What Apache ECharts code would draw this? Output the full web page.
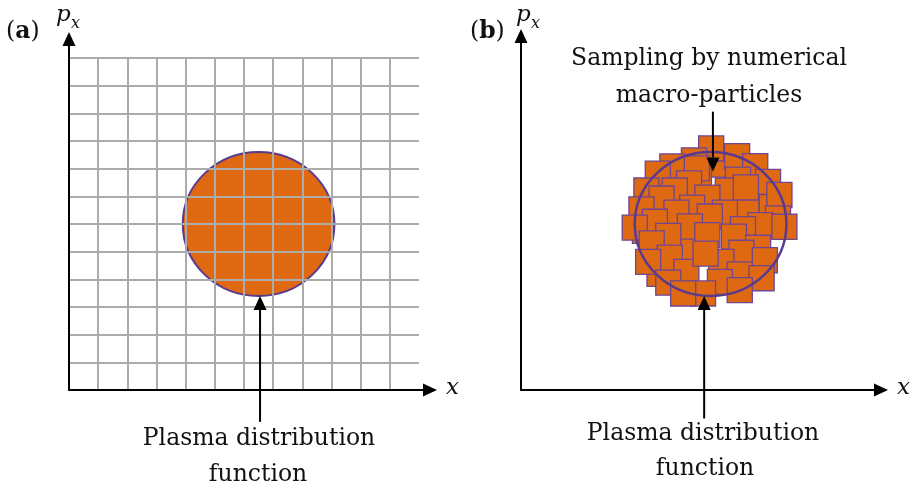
<!DOCTYPE html>
<html>
<head>
<meta charset="utf-8">
<script src="https://cdn.jsdelivr.net/npm/echarts@6/dist/echarts.min.js"></script>
<style>
  html, body { margin: 0; padding: 0; background: #fff; }
  #chart { width: 915px; height: 487px; }
</style>
</head>
<body>
<div id="chart"></div>
<script>
// Phase-space extent of the Eulerian mesh (cells along x and along p_x)
const meshCellsX = [0, 12];
const meshCellsP = [0, 12];

// Continuous plasma distribution: centre (x, p_x) and radius, phase-space units
const distributionCentre = [6.5, 6.0];
const distributionRadius = [2.6];

// Macro-particle centres (x, p_x) sampling the distribution
const particleX = [6.52, 7.41, 5.93, 5.19, 8.03, 6.03, 4.69, 7.44, 8.47, 5.76,
                   4.30, 5.27, 7.09, 8.86, 6.39, 4.82, 5.87, 7.73, 4.13, 6.99,
                   5.33, 6.47, 8.81, 4.59, 8.21, 5.79, 9.03, 3.90, 7.61, 6.39,
                   5.05, 7.30, 4.48, 8.13, 7.56, 5.10, 8.36, 6.87, 4.36, 5.67,
                   7.50, 8.25, 5.05, 6.82, 7.50, 6.24, 5.56, 7.71, 6.33,
                   4.25, 6.95, 8.60, 5.60, 7.20, 4.75, 6.10];
const particleP = [8.73, 8.45, 8.30, 8.08, 8.09, 8.01, 7.82, 7.60, 7.52, 7.47,
                   7.21, 7.21, 7.21, 7.05, 6.95, 6.92, 6.59, 6.53, 6.53, 6.41,
                   6.41, 6.27, 6.20, 6.08, 5.96, 5.91, 5.90, 5.87, 5.81, 5.60,
                   5.57, 5.54, 5.30, 5.14, 4.96, 4.78, 4.69, 4.63, 4.63, 4.27,
                   4.18, 4.04, 3.88, 3.91, 3.61, 3.49, 3.49, 7.32, 4.93,
                   5.75, 8.15, 6.75, 5.15, 4.40, 4.20, 7.80];

// Annotation pointers: [x, tip p_x, tail p_x]
const pointersA = [[6.55, 3.40, -1.15]];
const pointersB = [[6.58, 7.90, 10.06], [6.28, 3.40, -1.03]];

// Text
const panelLabels = ['a', 'b'];
const axisNameX = 'x';
const axisNameP = ['p', 'x'];
const labelDistribution = ['Plasma distribution', 'function'];
const labelSampling = ['Sampling by numerical', 'macro-particles'];

const ORANGE = '#de6912';
const PURPLE = '#5a3a8e';
const EDGE = '#6f4594';
const MESH = '#ababab';
const INK = '#111111';
const SERIF = 'DejaVu Serif';
const PARTICLE_SIDE = 0.86;

const chart = echarts.init(document.getElementById('chart'), null, { renderer: 'canvas' });

function hiddenAxis(gridIndex, extent, extra) {
  return Object.assign({
    type: 'value', gridIndex: gridIndex, min: extent[0], max: extent[1], interval: 1,
    axisLine: { show: false }, axisTick: { show: false }, axisLabel: { show: false },
    splitLine: { show: false }
  }, extra || {});
}

function arrowAxis(gridIndex) {
  return {
    type: 'value', gridIndex: gridIndex, min: 0, max: 1, z: 4,
    axisLine: {
      show: true, onZero: false,
      symbol: ['none', 'triangle'], symbolSize: [13, 14],
      lineStyle: { color: '#000', width: 2 }
    },
    axisTick: { show: false }, axisLabel: { show: false }, splitLine: { show: false }
  };
}

const meshSplit = (showMax) => ({
  show: true, showMinLine: false, showMaxLine: showMax,
  lineStyle: { color: MESH, width: 2 }
});

function renderEllipse(filled) {
  return function (params, api) {
    const c = api.coord([api.value(0), api.value(1)]);
    const s = api.size([api.value(2), api.value(2)]);
    return {
      type: 'ellipse',
      shape: { cx: c[0], cy: c[1], rx: s[0], ry: s[1] },
      style: filled
        ? { fill: ORANGE, stroke: PURPLE, lineWidth: 2 }
        : { fill: 'none', stroke: PURPLE, lineWidth: 2.5 }
    };
  };
}

function renderParticle(params, api) {
  const c = api.coord([api.value(0), api.value(1)]);
  const side = api.size([PARTICLE_SIDE, 0])[0];
  return {
    type: 'rect',
    shape: { x: c[0] - side / 2, y: c[1] - side / 2, width: side, height: side },
    style: { fill: ORANGE, stroke: EDGE, lineWidth: 1.3 }
  };
}

function renderPointer(params, api) {
  const tip = api.coord([api.value(0), api.value(1)]);
  const tail = api.coord([api.value(0), api.value(2)]);
  const dir = tail[1] > tip[1] ? 1 : -1;
  const headLen = 14, headHalf = 6.5;
  const base = tip[1] + dir * headLen;
  return {
    type: 'group',
    children: [
      { type: 'line', shape: { x1: tail[0], y1: tail[1], x2: tip[0], y2: base },
        style: { stroke: '#000', lineWidth: 2 } },
      { type: 'polygon',
        shape: { points: [[tip[0], tip[1]], [tip[0] - headHalf, base], [tip[0] + headHalf, base]] },
        style: { fill: '#000' } }
    ]
  };
}

const ellipseData = [[distributionCentre[0], distributionCentre[1], distributionRadius[0]]];
const particleData = particleX.map((x, i) => [x, particleP[i]]);
// fill-in particles go first so the sampled ones overlap them
const particleOrder = particleData.slice(49).concat(particleData.slice(0, 49));

function text(str, x, y, opts) {
  return {
    type: 'text', x: x, y: y, silent: true, z: 10,
    style: Object.assign({
      text: str, fill: INK, fontFamily: SERIF, fontSize: 23.5,
      align: 'center', verticalAlign: 'middle'
    }, opts || {})
  };
}

function panelTag(letter, x) {
  return text('{n|(}{b|' + letter + '}{n|)}', x, 32, {
    align: 'left',
    rich: {
      n: { fontFamily: SERIF, fontSize: 23.5, fill: INK },
      b: { fontFamily: SERIF, fontSize: 23.5, fontWeight: 'bold', fill: INK }
    }
  });
}

const option = {
  backgroundColor: '#ffffff',
  animation: false,
  grid: [
    { left: 69, top: 58, width: 350, height: 332 },   // mesh (a)
    { left: 69, top: 39, width: 361, height: 351 },   // axes (a)
    { left: 521, top: 58, width: 350, height: 332 },  // particles (b)
    { left: 521, top: 36, width: 360, height: 354 }   // axes (b)
  ],
  xAxis: [
    hiddenAxis(0, meshCellsX, { z: 3, splitLine: meshSplit(false) }),
    arrowAxis(1),
    hiddenAxis(2, meshCellsX),
    arrowAxis(3)
  ],
  yAxis: [
    hiddenAxis(0, meshCellsP, { z: 3, splitLine: meshSplit(true) }),
    arrowAxis(1),
    hiddenAxis(2, meshCellsP),
    arrowAxis(3)
  ],
  series: [
    { type: 'custom', name: 'distribution', xAxisIndex: 0, yAxisIndex: 0, z: 1,
      renderItem: renderEllipse(true), data: ellipseData, silent: true },
    { type: 'custom', name: 'macro-particles', xAxisIndex: 2, yAxisIndex: 2, z: 2,
      renderItem: renderParticle, data: particleOrder, silent: true },
    { type: 'custom', name: 'distribution outline', xAxisIndex: 2, yAxisIndex: 2, z: 3,
      renderItem: renderEllipse(false), data: ellipseData, silent: true },
    { type: 'custom', name: 'pointers a', xAxisIndex: 0, yAxisIndex: 0, z: 6,
      renderItem: renderPointer, data: pointersA, silent: true },
    { type: 'custom', name: 'pointers b', xAxisIndex: 2, yAxisIndex: 2, z: 6,
      renderItem: renderPointer, data: pointersB, silent: true }
  ],
  graphic: { elements: [
    panelTag(panelLabels[0], 6),
    panelTag(panelLabels[1], 470),
    text(axisNameP[0], 56, 15, { align: 'left', fontStyle: 'italic', fontSize: 23 }),
    text(axisNameP[1], 71, 24, { align: 'left', fontStyle: 'italic', fontSize: 16 }),
    text(axisNameP[0], 516, 15, { align: 'left', fontStyle: 'italic', fontSize: 23 }),
    text(axisNameP[1], 531, 24, { align: 'left', fontStyle: 'italic', fontSize: 16 }),
    text(axisNameX, 446, 388, { align: 'left', fontStyle: 'italic', fontSize: 23 }),
    text(axisNameX, 897, 388, { align: 'left', fontStyle: 'italic', fontSize: 23 }),
    text(labelDistribution[0], 259, 439),
    text(labelDistribution[1], 258, 475),
    text(labelDistribution[0], 703, 434),
    text(labelDistribution[1], 705, 469),
    text(labelSampling[0], 709, 59),
    text(labelSampling[1], 709, 96)
  ] }
};

chart.setOption(option);
</script>
</body>
</html>
